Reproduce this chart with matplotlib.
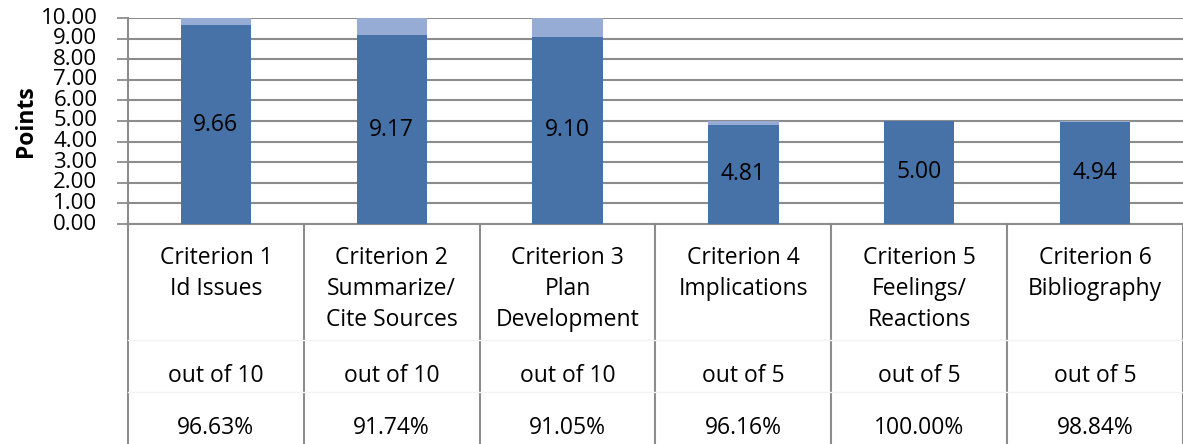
import matplotlib
matplotlib.use("Agg")
import matplotlib.pyplot as plt
from matplotlib.lines import Line2D

plt.rcParams['font.family'] = ['Open Sans', 'DejaVu Sans']

# data
names = ["Criterion 1\nId Issues", "Criterion 2\nSummarize/\nCite Sources",
         "Criterion 3\nPlan\nDevelopment", "Criterion 4\nImplications",
         "Criterion 5\nFeelings/\nReactions", "Criterion 6\nBibliography"]
max_points = [10, 10, 10, 5, 5, 5]
scores = [9.66, 9.17, 9.10, 4.81, 5.00, 4.94]
percents = ["96.63%", "91.74%", "91.05%", "96.16%", "100.00%", "98.84%"]

dark = "#4672a7"
light = "#96acd4"
grid_c = "#8c8c8c"
fs = 16.5

fig = plt.figure(figsize=(11.83, 4.44), dpi=100)
ax = fig.add_axes([128 / 1183, 1 - 224 / 444, 1 - 128 / 1183, (224 - 18) / 444])

x = list(range(len(scores)))
rest = [m - s for m, s in zip(max_points, scores)]
ax.bar(x, scores, width=0.4, color=dark, zorder=3)
ax.bar(x, rest, bottom=scores, width=0.4, color=light, zorder=3)

for i, s in enumerate(scores):
    ax.text(i, s / 2, f"{s:.2f}", ha="center", va="center", fontsize=fs, zorder=4)

ax.set_xlim(-0.5, len(scores) - 0.5)
ax.set_ylim(0, 10)
ax.set_yticks(range(0, 11))
ax.set_yticklabels([f"{v:.2f}" for v in range(0, 11)], fontsize=16)
ax.tick_params(axis="y", length=8, width=1.3, color=grid_c, pad=14)
ax.tick_params(axis="x", length=0, labelbottom=False)
ax.yaxis.grid(True, color=grid_c, linewidth=1.5, zorder=0)
for lbl in ax.get_yticklabels():
    lbl.set_verticalalignment("center")

for sp in ["top", "right"]:
    ax.spines[sp].set_visible(False)
ax.spines["left"].set_color(grid_c)
ax.spines["left"].set_linewidth(1.5)
ax.spines["bottom"].set_color(grid_c)
ax.spines["bottom"].set_linewidth(1.5)

ax.set_ylabel("Points", fontsize=fs, fontweight="bold", labelpad=2)

# category table below the axis
trans = ax.get_xaxis_transform()
px = 1 / 206  # one pixel in axes height
for b in range(len(scores) + 1):
    ax.add_line(Line2D([b - 0.5, b - 0.5], [0, -220 * px], transform=trans,
                       color=grid_c, linewidth=1.5, clip_on=False))
for yy in [340, 392]:
    ax.add_line(Line2D([-0.5, len(scores) - 0.5], [-(yy - 224) * px] * 2,
                       transform=trans, color="#f3f3f3", linewidth=1, clip_on=False))

for i in range(len(scores)):
    ax.text(i, -(246 - 224) * px, names[i], transform=trans, ha="center", va="top",
            fontsize=fs, linespacing=1.38)
    ax.text(i, -(376 - 224) * px, f"out of {max_points[i]}", transform=trans,
            ha="center", va="center", fontsize=fs)
    ax.text(i, -(428 - 224) * px, percents[i], transform=trans,
            ha="center", va="center", fontsize=fs)

fig.savefig("out.png", dpi=100)
